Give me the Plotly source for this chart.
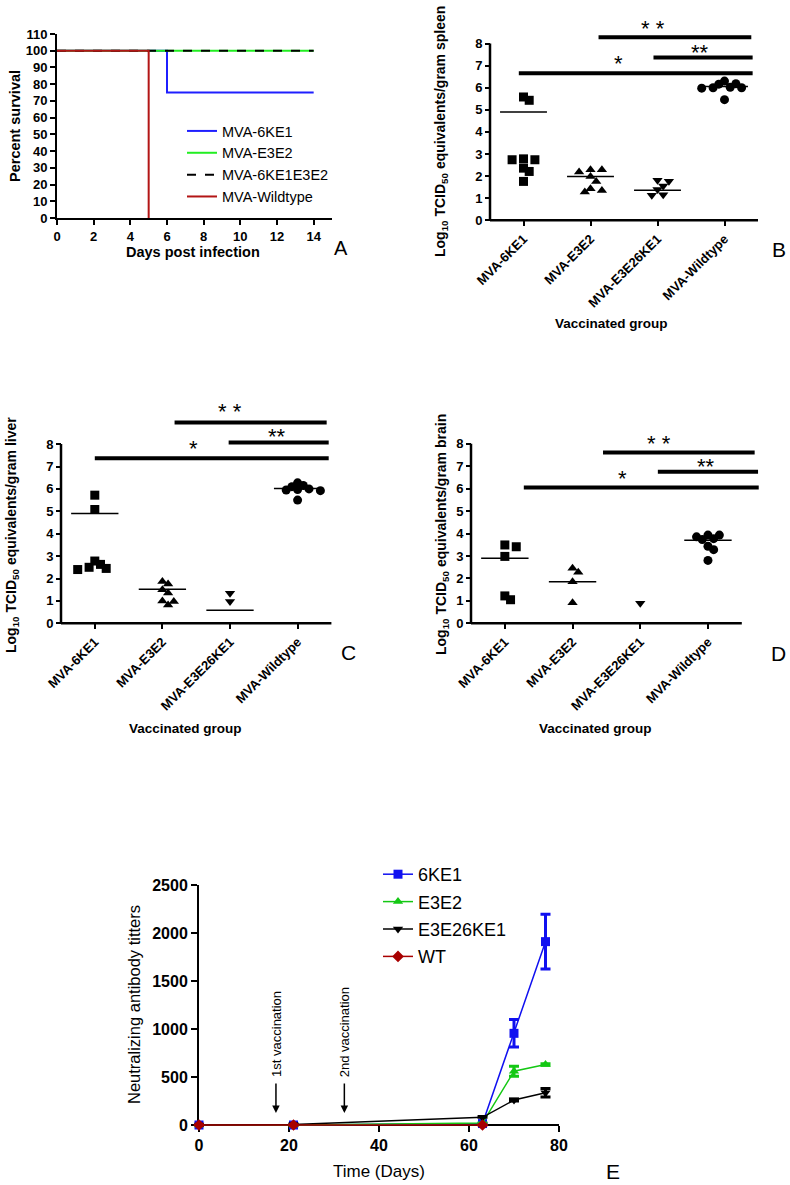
import plotly.graph_objects as go

W, H = 790, 1185
FONT = "Arial, Liberation Sans, sans-serif"

# ---------------- Panel A: survival ----------------
surv_groups = ["MVA-6KE1", "MVA-E3E2", "MVA-6KE1E3E2", "MVA-Wildtype"]
surv_days = [[0, 6, 14], [0, 14], [0, 14], [0, 5]]
surv_pct = [[100, 75, 75], [100, 100], [100, 100], [100, 0]]
surv_colors = ["#1f1fff", "#22ee22", "#000000", "#b31515"]
surv_dash = ["solid", "solid", "dash", "solid"]
surv_xticks = [0, 2, 4, 6, 8, 10, 12, 14]
surv_yticks = [0, 10, 20, 30, 40, 50, 60, 70, 80, 90, 100, 110]

# ---------------- Panels B-D: viral load ----------------
vacc_groups = ["MVA-6KE1", "MVA-E3E2", "MVA-E3E26KE1", "MVA-Wildtype"]
vacc_symbols = ["square", "triangle-up", "triangle-down", "circle"]
load_yticks = [0, 1, 2, 3, 4, 5, 6, 7, 8]

spleen_6KE1 = [5.43, 5.58, 2.74, 2.78, 2.74, 2.36, 2.21, 1.76]
spleen_E3E2 = [2.18, 2.29, 2.29, 1.98, 1.76, 1.43, 1.28, 1.35]
spleen_E3E26KE1 = [1.81, 1.77, 1.55, 1.39, 1.13, 1.16]
spleen_WT = [6.18, 6.0, 6.02, 5.98, 6.16, 6.0, 6.3, 5.46]
spleen_means = [4.9, 1.98, 1.36, 6.05]

liver_6KE1 = [5.72, 5.08, 2.5, 2.63, 2.4, 2.45, 2.78]
liver_E3E2 = [1.5, 1.87, 1.75, 1.35, 1.0, 0.97, 0.82]
liver_E3E26KE1 = [0.97, 1.34]
liver_WT = [6.15, 5.97, 6.1, 5.95, 6.27, 5.92, 5.5, 6.0]
liver_means = [4.9, 1.52, 0.58, 6.02]

brain_6KE1 = [3.41, 3.49, 2.98, 1.05, 1.22]
brain_E3E2 = [2.27, 2.45, 1.85, 0.92]
brain_E3E26KE1 = [0.89]
brain_WT = [3.73, 3.85, 3.93, 3.93, 3.77, 3.43, 3.28, 2.8]
brain_means = [2.9, 1.85, None, 3.7]

# significance brackets: (from, to, level) in group / log units ; stars: (text, group pos, level)
spleen_bars = [(1.12, 3.4, 8.28), (1.94, 3.42, 7.37), (-0.07, 3.42, 6.65)]
spleen_stars = [("* *", 1.94, 8.9), ("**", 2.64, 7.8), ("*", 1.42, 7.3)]
liver_bars = [(1.18, 3.43, 8.96), (1.98, 3.46, 8.07), (0.0, 3.46, 7.37)]
liver_stars = [("* *", 2.0, 9.66), ("**", 2.7, 8.54), ("*", 1.46, 8.02)]
brain_bars = [(1.45, 3.69, 7.61), (2.26, 3.74, 6.75), (0.28, 3.75, 6.05)]
brain_stars = [("* *", 2.28, 8.23), ("**", 2.97, 7.2), ("*", 1.74, 6.69)]

# ---------------- Panel E: neutralizing antibody ----------------
titer_groups = ["6KE1", "E3E2", "E3E26KE1", "WT"]
titer_symbols = ["square", "triangle-up", "triangle-down", "diamond"]
titer_colors = ["#1010f0", "#14c814", "#000000", "#a80000"]
titer_days = [[0, 21, 63, 70, 77], [0, 21, 63, 70, 77], [0, 21, 63, 70, 77], [0, 21, 63]]
titer_vals = [[0, 0, 15, 955, 1910], [0, 0, 20, 560, 630], [0, 5, 80, 260, 336], [0, 0, 0]]
titer_errs = [[0, 0, 0, 143, 285], [0, 0, 0, 52, 8], [0, 0, 0, 10, 45], [0, 0, 0]]
titer_xticks = [0, 20, 40, 60, 80]
titer_yticks = [0, 500, 1000, 1500, 2000, 2500]
vacc_events = ["1st vaccination", "2nd vaccination"]
vacc_event_days = [17.1, 32.3]


def fx(px):
    return px / W


def fy(py):
    return 1 - py / H


def dom_x(px0, v0, scale, rng):
    return [fx(px0 + (rng[0] - v0) * scale), fx(px0 + (rng[1] - v0) * scale)]


def dom_y(py0, v0, scale, rng):
    return [fy(py0 - (rng[0] - v0) * scale), fy(py0 - (rng[1] - v0) * scale)]


def swarm(vals, sx, sy, diam=6.3, step=5.7):
    placed = []
    offs = [0.0] * len(vals)
    order = sorted(range(len(vals)), key=lambda i: -vals[i])
    cands = [0.0]
    for j in range(1, 30):
        cands += [j * step, -j * step]
    for i in order:
        ypx = vals[i] * sy
        for c in cands:
            if all(((c - p[0]) ** 2 + (ypx - p[1]) ** 2) ** 0.5 >= diam for p in placed):
                placed.append((c, ypx))
                offs[i] = c / sx
                break
    return offs


def note(text, px, py, size, angle=0):
    return dict(text=text, x=fx(px), y=fy(py), xref="paper", yref="paper", showarrow=False,
                xanchor="center", yanchor="middle", textangle=angle, font=dict(size=size))


fig = go.Figure()
annotations = []
shapes = []

# ---------- A ----------
for name, xs, ys, col, dash in zip(surv_groups, surv_days, surv_pct, surv_colors, surv_dash):
    fig.add_trace(go.Scatter(x=xs, y=ys, mode="lines", line=dict(color=col, width=2, dash=dash, shape="hv"),
                             name=name, legend="legend", xaxis="x", yaxis="y"))

axis_common = dict(showgrid=False, zeroline=False, ticks="outside", tickcolor="black",
                   color="black")
layout = dict(
    width=W, height=H, margin=dict(l=0, r=0, t=0, b=0, autoexpand=False), autosize=False,
    paper_bgcolor="white", plot_bgcolor="rgba(0,0,0,0)",
    font=dict(family=FONT, color="black"),
    xaxis=dict(domain=[fx(57), fx(332)], range=[0, 15], tickvals=surv_xticks, anchor="y",
               showline=True, linecolor="black", linewidth=2, ticklen=5, tickwidth=2,
               tickfont=dict(size=13, weight="bold"), **axis_common),
    yaxis=dict(domain=[fy(218), fy(34)], range=[0, 110], tickvals=surv_yticks, anchor="x",
               showline=True, linecolor="black", linewidth=2, ticklen=5, tickwidth=2,
               tickfont=dict(size=13, weight="bold"), **axis_common),
    legend=dict(x=fx(182), y=fy(115), xanchor="left", yanchor="top", font=dict(size=14.5),
                bgcolor="rgba(0,0,0,0)", tracegroupgap=0, itemwidth=30),
    legend2=dict(x=fx(378), y=fy(856), xanchor="left", yanchor="top", font=dict(size=18),
                 bgcolor="rgba(0,0,0,0)", tracegroupgap=1, itemwidth=30),
)
annotations += [
    note("<b>Days post infection</b>", 193, 252, 14.5),
    note("<b>Percent survival</b>", 15, 126, 14.5, angle=-90),
    note("A", 341, 248, 20),
]

# ---------- B, C, D ----------
xr = [-0.6, 3.85]
panels = [
    (2, [spleen_6KE1, spleen_E3E2, spleen_E3E26KE1, spleen_WT], spleen_means, spleen_bars, spleen_stars,
     490, 67.0, 220.3, 22.1, "spleen", (779, 250), (441, 132), (611, 323), [-0.2, 9.4]),
    (3, [liver_6KE1, liver_E3E2, liver_E3E26KE1, liver_WT], liver_means, liver_bars, liver_stars,
     61, 67.6, 623.3, 22.4, "liver", (348, 652), (12, 535), (185, 728), [-0.2, 10.0]),
    (4, [brain_6KE1, brain_E3E2, brain_E3E26KE1, brain_WT], brain_means, brain_bars, brain_stars,
     471, 67.7, 623.3, 22.45, "brain", (778, 653), (442, 535), (595, 728), [-0.2, 9.4]),
]
letters = {2: "B", 3: "C", 4: "D"}
for (k, groups, means, bars, stars, x0px, sx, y0px, sy, organ, lpos, ytpos, xtpos, yr) in panels:
    xa, ya = f"x{k}", f"y{k}"
    for gi, (vals, sym) in enumerate(zip(groups, vacc_symbols)):
        offs = swarm(vals, sx, sy)
        fig.add_trace(go.Scatter(x=[gi + o for o in offs], y=vals, mode="markers",
                                 marker=dict(symbol=sym, size=9, color="black", line=dict(width=0)),
                                 showlegend=False, xaxis=xa, yaxis=ya, cliponaxis=False))
        if means[gi] is not None:
            fig.add_trace(go.Scatter(x=[gi - 0.35, gi + 0.35], y=[means[gi], means[gi]], mode="lines",
                                     line=dict(color="black", width=1.5), showlegend=False,
                                     xaxis=xa, yaxis=ya))
    for (a, b, lvl) in bars:
        shapes.append(dict(type="line", xref=xa, yref=ya, x0=a, x1=b, y0=lvl, y1=lvl,
                           line=dict(color="black", width=4)))
    for (txt, pos, lvl) in stars:
        annotations.append(dict(text=txt, x=pos, y=lvl, xref=xa, yref=ya, showarrow=False,
                                xanchor="center", yanchor="middle",
                                font=dict(size=22), yshift=-5))
    shapes.append(dict(type="line", xref=xa, yref=ya, x0=-0.5, x1=-0.5, y0=0, y1=8,
                       line=dict(color="black", width=2.5)))
    shapes.append(dict(type="line", xref=xa, yref=ya, x0=-0.5, x1=3.5, y0=0, y1=0,
                       line=dict(color="black", width=2.5)))
    layout[f"xaxis{k}"] = dict(domain=dom_x(x0px, -0.5, sx, xr), range=xr, anchor="free",
                               position=fy(y0px), tickvals=[0, 1, 2, 3], ticktext=vacc_groups,
                               tickangle=-45, ticklen=5, tickwidth=2, showline=False,
                               tickfont=dict(size=13, weight="bold"), **axis_common)
    layout[f"yaxis{k}"] = dict(domain=dom_y(y0px, 0, sy, yr), range=yr, anchor="free",
                               position=fx(x0px), tickvals=load_yticks, ticklen=5, tickwidth=2,
                               showline=False, tickfont=dict(size=13, weight="bold"), **axis_common)
    annotations += [
        note(f"<b>Log<sub>10</sub> TCID<sub>50</sub> equivalents/gram {organ}</b>",
             ytpos[0], ytpos[1], 14, angle=-90),
        note("<b>Vaccinated group</b>", xtpos[0], xtpos[1], 13.5),
        note(letters[k], lpos[0], lpos[1], 21),
    ]

# ---------- E ----------
for gi, (name, sym, col, xs, ys, es) in enumerate(zip(titer_groups, titer_symbols, titer_colors,
                                                      titer_days, titer_vals, titer_errs)):
    fig.add_trace(go.Scatter(x=xs, y=ys, mode="lines+markers", name=name,
                             line=dict(color=col, width=1.5),
                             marker=dict(symbol=sym, size=9, color=col),
                             error_y=dict(type="data", array=es, color=col, thickness=3, width=5),
                             legend="legend2", legendgroup=name, xaxis="x5", yaxis="y5",
                             cliponaxis=False))
e_sy = 240 / 2500.0
e_yr = [-20, 2500]
layout["xaxis5"] = dict(domain=[fx(199), fx(559)], range=[0, 80], tickvals=titer_xticks,
                        anchor="free", position=fy(1125), showline=True, linecolor="black",
                        linewidth=2, ticklen=6, tickwidth=2, layer="below traces",
                        tickfont=dict(size=16, weight="bold"), **axis_common)
layout["yaxis5"] = dict(domain=dom_y(1125, 0, e_sy, e_yr), range=e_yr, tickvals=titer_yticks,
                        anchor="x5", showline=True, linecolor="black", linewidth=2, ticklen=6,
                        tickwidth=2, layer="below traces",
                        tickfont=dict(size=16, weight="bold"), **axis_common)
for txt, d, ty in zip(vacc_events, vacc_event_days, [948, 969]):
    annotations.append(dict(text="", x=d, y=125, xref="x5", yref="y5", showarrow=True,
                            ax=0, ay=-31, arrowhead=2, arrowsize=1, arrowwidth=1.5,
                            arrowcolor="black"))
    annotations.append(dict(text=txt, x=d, y=ty, xref="x5", yref="y5", showarrow=False,
                            xanchor="center", yanchor="middle",
                            textangle=-90, xshift=1, font=dict(size=13)))
annotations += [
    note("Time (Days)", 379, 1171, 17),
    note("Neutralizing antibody titters", 134, 1005, 16.5, angle=-90),
    note("E", 613, 1171, 21),
]

layout["annotations"] = annotations
layout["shapes"] = shapes
fig.update_layout(**layout)
fig.write_html("out.html", config={"displayModeBar": False, "responsive": False},
               post_script="document.documentElement.style.margin='0px';"
                           "document.body.style.margin='0px';"
                           "document.body.style.overflow='hidden';")
